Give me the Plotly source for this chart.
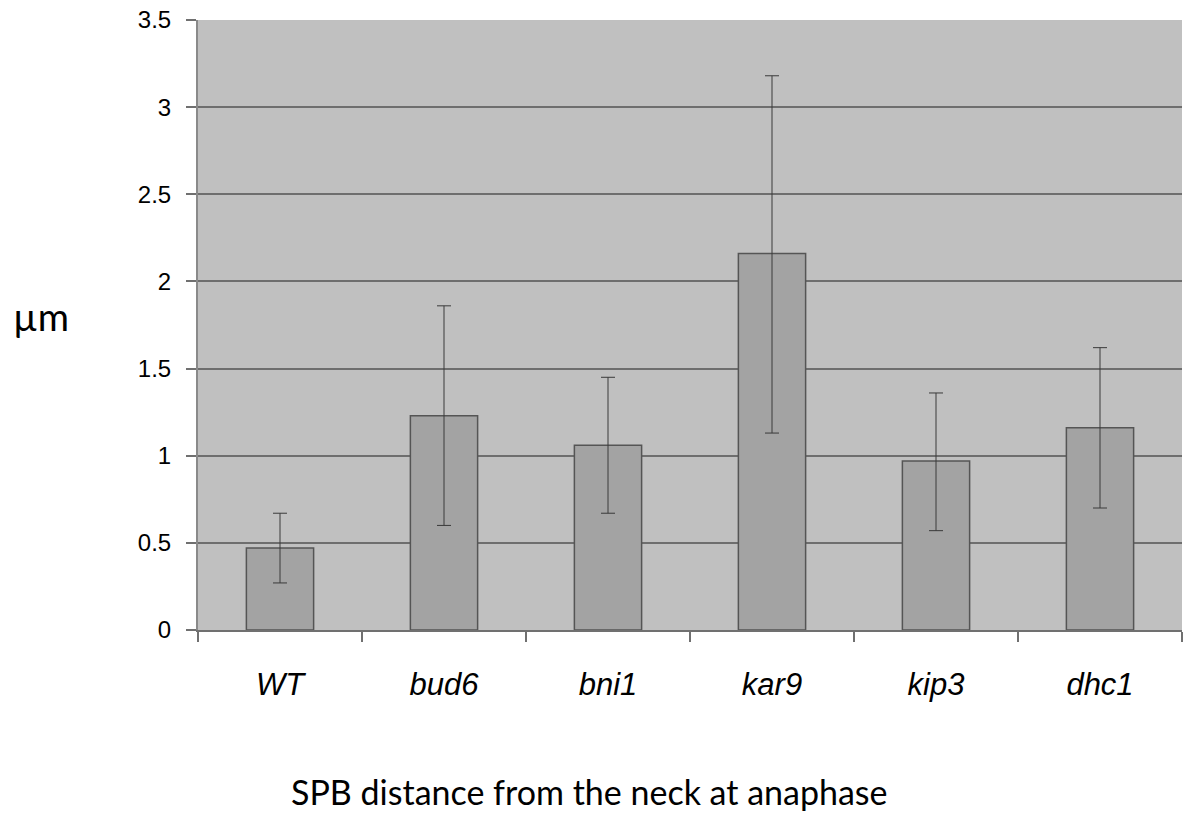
import plotly.graph_objects as go

categories = ["WT", "bud6", "bni1", "kar9", "kip3", "dhc1"]
means = [0.47, 1.23, 1.06, 2.16, 0.97, 1.16]
err_plus = [0.20, 0.63, 0.39, 1.02, 0.39, 0.46]
err_minus = [0.20, 0.63, 0.39, 1.03, 0.40, 0.46]
tick_vals = [0, 0.5, 1, 1.5, 2, 2.5, 3, 3.5]
tick_text = ["0", "0.5", "1", "1.5", "2", "2.5", "3", "3.5"]

fig = go.Figure()
fig.add_trace(go.Bar(
    x=categories,
    y=means,
    marker=dict(color="#a3a3a3", line=dict(color="#555555", width=1.5)),
    width=0.41,
    error_y=dict(type="data", symmetric=False, array=err_plus, arrayminus=err_minus,
                 color="#3a3a3a", thickness=1, width=7),
))

fig.update_layout(
    width=1183, height=829,
    margin=dict(l=198, r=1, t=20, b=199),
    paper_bgcolor="white",
    plot_bgcolor="#c0c0c0",
    showlegend=False,
    bargap=0.59,
    xaxis=dict(
        type="category",
        tickson="boundaries",
        ticks="outside", ticklen=10, tickcolor="#707070", tickwidth=1.5,
        showline=True, linecolor="#707070", linewidth=1.5,
        showgrid=False,
        tickfont=dict(family="Liberation Sans, Arial", size=31, color="black", style="italic"),
        ticklabelstandoff=26,
        tickangle=0,
    ),
    yaxis=dict(
        range=[0, 3.5],
        tickvals=tick_vals, ticktext=tick_text,
        ticks="outside", ticklen=10, tickcolor="#707070", tickwidth=1.5,
        showline=True, linecolor="#8a8a8a", linewidth=2,
        showgrid=True, gridcolor="#6e6e6e", gridwidth=1.5,
        zeroline=False,
        tickfont=dict(family="Liberation Sans, Arial", size=24, color="black"),
        ticklabelstandoff=10,
    ),
    annotations=[
        dict(text="µm", xref="paper", yref="paper", x=-0.129, y=0.515,
             xanchor="right", yanchor="middle", showarrow=False,
             font=dict(family="Lato, Noto Sans", size=38, color="black")),
        dict(text="SPB distance from the neck at anaphase", xref="paper", yref="paper",
             x=0.398, y=-0.265, xanchor="center", yanchor="middle", showarrow=False,
             font=dict(family="Lato, Noto Sans", size=34, color="black")),
    ],
)

fig.write_html("out.html")
